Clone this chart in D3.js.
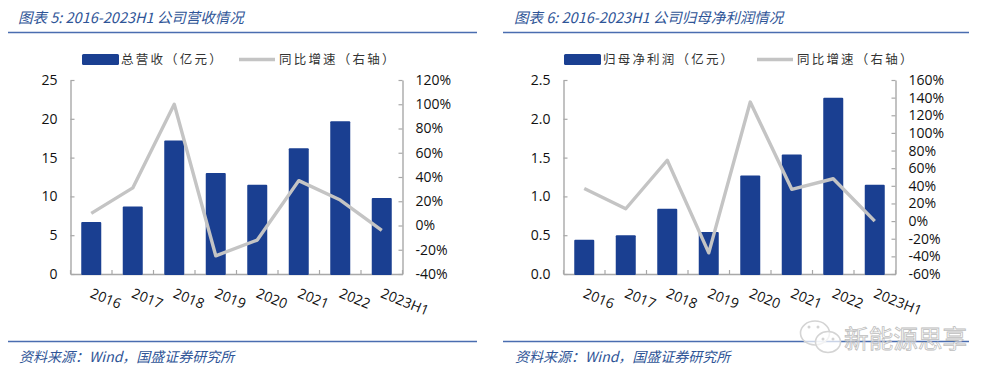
<!DOCTYPE html>
<html>
<head>
<meta charset="utf-8">
<script src="https://cdn.jsdelivr.net/npm/d3@7"></script>
<style>
  html, body { margin: 0; padding: 0; background: #fff; }
  svg { display: block; }
  text { font-family: "Noto Sans CJK SC", sans-serif; }
  .tick text, .cat { font-family: "Open Sans", "Noto Sans", sans-serif; fill: #111; }
  .head, .src { fill: #2f5597; font-style: italic; }
  .legend { fill: #333; letter-spacing: 2.2px; }
</style>
</head>
<body>
<svg id="chart" width="1000" height="382"></svg>
<script>
// Data
const categories = ["2016", "2017", "2018", "2019", "2020", "2021", "2022", "2023H1"];

const revenue = [6.7, 8.7, 17.2, 13.0, 11.5, 16.2, 19.7, 9.8];
const revenueGrowth = [10, 31, 100, -25, -12, 37, 21, -4];
const revenueTicks = [0, 5, 10, 15, 20, 25];
const revenueGrowthTicks = [-40, -20, 0, 20, 40, 60, 80, 100, 120];

const profit = [0.44, 0.50, 0.84, 0.54, 1.27, 1.54, 2.27, 1.15];
const profitGrowth = [37, 14, 69, -36, 135, 36, 48, 0];
const profitTicks = [0, 0.5, 1.0, 1.5, 2.0, 2.5];
const profitGrowthTicks = [-60, -40, -20, 0, 20, 40, 60, 80, 100, 120, 140, 160];

const BLUE = "#1a3f91", GREY = "#c4c4c4", AXIS = "#a8a8a8", RULE = "#4a6db0";

const svg = d3.select("#chart");

function drawPanel(o) {
  const g = svg.append("g").attr("transform", `translate(${o.left},0)`);
  const top = 80, bottom = 274;
  const W = o.plotW;

  // Header + footer
  g.append("text").attr("class", "head")
    .attr("x", o.titleX).attr("y", 23).attr("font-size", 14.5)
    .text(o.title);
  g.append("line").attr("x1", o.ruleX0).attr("x2", o.ruleX1).attr("y1", 32.5).attr("y2", 32.5)
    .attr("stroke", RULE).attr("stroke-width", 1.6);
  g.append("line").attr("x1", o.ruleX0).attr("x2", o.ruleX1).attr("y1", 341.5).attr("y2", 341.5)
    .attr("stroke", RULE).attr("stroke-width", 1.6);
  g.append("text").attr("class", "src")
    .attr("x", o.titleX + 1).attr("y", 362).attr("font-size", 14)
    .text("资料来源：Wind，国盛证券研究所");

  // Scales
  const x = d3.scaleBand().domain(categories).range([0, W]);
  const y = d3.scaleLinear().domain(o.yDomain).range([bottom, top]);
  const y2 = d3.scaleLinear().domain(o.y2Domain).range([bottom, top]);

  const plot = g.append("g").attr("transform", `translate(${o.plotX},0)`);

  // Axes
  const yAxis = plot.append("g").call(
    d3.axisLeft(y).tickValues(o.yTicks).tickFormat(o.yFormat).tickSizeInner(-4).tickSizeOuter(0).tickPadding(13));
  const y2Axis = plot.append("g").attr("transform", `translate(${W},0)`).call(
    d3.axisRight(y2).tickValues(o.y2Ticks).tickFormat(d => d + "%").tickSizeInner(-4).tickSizeOuter(0).tickPadding(13));
  const xAxis = plot.append("g").attr("transform", `translate(0,${bottom})`).call(
    d3.axisBottom(x).tickValues([]).tickSizeOuter(0));
  // Ticks between the categories, pointing up
  const bounds = d3.range(categories.length + 1).map(i => i * x.step());
  xAxis.selectAll(".b").data(bounds).enter().append("line")
    .attr("x1", d => d).attr("x2", d => d).attr("y1", 0).attr("y2", -4)
    .attr("stroke", AXIS).attr("stroke-width", 1.2);

  [yAxis, y2Axis, xAxis].forEach(a => {
    a.selectAll("path.domain").attr("stroke", AXIS).attr("stroke-width", 1.4);
    a.selectAll(".tick line").attr("stroke", AXIS).attr("stroke-width", 1.2);
    a.selectAll("text").attr("font-size", 14).attr("font-family", '"Open Sans", sans-serif').attr("fill", "#111");
  });

  // Bars, over the baseline
  const barW = 20;
  plot.selectAll(".bar").data(o.bars).enter().append("rect")
    .attr("class", "bar")
    .attr("x", (d, i) => x(categories[i]) + (x.bandwidth() - barW) / 2)
    .attr("y", d => y(d))
    .attr("width", barW)
    .attr("height", d => bottom - y(d) + 1)
    .attr("rx", 1)
    .attr("fill", BLUE);

  // Growth line
  const line = d3.line()
    .x((d, i) => x(categories[i]) + x.bandwidth() / 2)
    .y(d => y2(d));
  plot.append("path").datum(o.line)
    .attr("d", line)
    .attr("fill", "none")
    .attr("stroke", GREY)
    .attr("stroke-width", 3.4)
    .attr("stroke-linejoin", "round");

  // Rotated category labels
  plot.selectAll(".cat").data(categories).enter().append("text")
    .attr("class", "cat")
    .attr("font-size", 14)
    .attr("transform", d => `translate(${x(d) + x.bandwidth() / 2 - 2},${bottom + 23}) rotate(22)`)
    .text(d => d);

  // Legend
  g.append("rect").attr("x", o.legBarX).attr("y", 54).attr("width", 37).attr("height", 11)
    .attr("rx", 1.5).attr("fill", BLUE);
  g.append("text").attr("class", "legend").attr("x", o.legBarX + 39).attr("y", 64).attr("font-size", 12.5)
    .text(o.barName);
  g.append("line").attr("x1", o.legLineX).attr("x2", o.legLineX + 36).attr("y1", 59.5).attr("y2", 59.5)
    .attr("stroke", GREY).attr("stroke-width", 3.4);
  g.append("text").attr("class", "legend").attr("x", o.legLineX + 40).attr("y", 64).attr("font-size", 12.5)
    .text("同比增速（右轴）");
}

drawPanel({
  left: 0, plotX: 70.5, plotW: 332,
  titleX: 18, ruleX0: 8, ruleX1: 477,
  title: "图表 5:  2016-2023H1 公司营收情况",
  bars: revenue, line: revenueGrowth,
  yDomain: [0, 25], yTicks: revenueTicks, yFormat: d3.format("d"),
  y2Domain: [-40, 120], y2Ticks: revenueGrowthTicks,
  barName: "总营收（亿元）",
  legBarX: 82, legLineX: 239
});

drawPanel({
  left: 500, plotX: 63.5, plotW: 332,
  titleX: 14, ruleX0: 3, ruleX1: 469,
  title: "图表 6:  2016-2023H1 公司归母净利润情况",
  bars: profit, line: profitGrowth,
  yDomain: [0, 2.5], yTicks: profitTicks, yFormat: d3.format(".1f"),
  y2Domain: [-60, 160], y2Ticks: profitGrowthTicks,
  barName: "归母净利润（亿元）",
  legBarX: 64, legLineX: 257
});

// Watermark
const wm = svg.append("g");
wm.append("ellipse").attr("cx", 815).attr("cy", 333).attr("rx", 14.5).attr("ry", 12)
  .attr("fill", "#fff").attr("fill-opacity", 0.7).attr("stroke", "#d4d4d4").attr("stroke-width", 1.6);
wm.append("ellipse").attr("cx", 828).attr("cy", 342).attr("rx", 12.5).attr("ry", 10.5)
  .attr("fill", "#fff").attr("fill-opacity", 0.7).attr("stroke", "#d4d4d4").attr("stroke-width", 1.6);
[[809, 327], [818, 327], [823, 339], [833, 339]].forEach(p => {
  wm.append("circle").attr("cx", p[0]).attr("cy", p[1]).attr("r", 1.5).attr("fill", "#d4d4d4");
});
wm.append("text").attr("x", 844).attr("y", 348).attr("font-size", 24.5)
  .attr("fill", "#fff").attr("fill-opacity", 0.45)
  .attr("stroke", "#bdbdbd").attr("stroke-width", 0.8)
  .attr("textLength", 123)
  .text("新能源思享");
</script>
</body>
</html>
